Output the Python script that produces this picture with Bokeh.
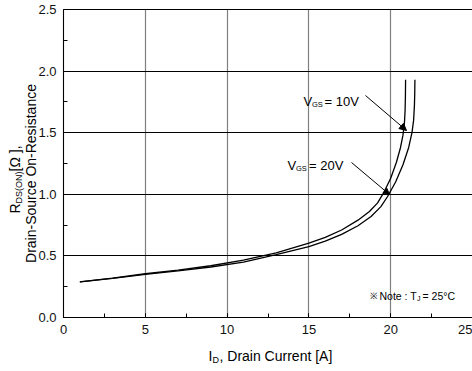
import math
from bokeh.plotting import figure
from bokeh.models import (Label, Arrow, NormalHead, SingleIntervalTicker, Range1d,
                          PrintfTickFormatter, Grid)
from bokeh.embed import file_html
from bokeh.resources import INLINE

# ---- data ----
id_10v = [1.0, 3.0, 5.0, 7.0, 9.0, 11.0, 13.0, 15.0, 16.0, 17.0, 18.0, 18.7, 19.2, 19.6, 20.0, 20.35, 20.6, 20.75, 20.84, 20.88, 20.9, 20.91]
r_10v = [0.29, 0.32, 0.355, 0.385, 0.42, 0.465, 0.525, 0.603, 0.65, 0.71, 0.79, 0.86, 0.93, 1.02, 1.13, 1.26, 1.38, 1.48, 1.58, 1.68, 1.8, 1.93]

id_20v = [1.0, 3.0, 5.0, 7.0, 9.0, 11.0, 13.0, 15.0, 16.0, 17.0, 18.0, 18.8, 19.4, 19.8, 20.3, 20.75, 21.1, 21.3, 21.4, 21.45, 21.47, 21.48]
r_20v = [0.29, 0.318, 0.35, 0.378, 0.41, 0.45, 0.51, 0.576, 0.62, 0.675, 0.745, 0.82, 0.9, 0.98, 1.1, 1.24, 1.38, 1.5, 1.6, 1.72, 1.82, 1.93]

x_ticks = [0, 5, 10, 15, 20, 25]
y_ticks = [0.0, 0.5, 1.0, 1.5, 2.0, 2.5]

FONT = "Liberation Sans"
W, H = 472, 368
# plot-area placement on the canvas (pixels)
LEFT, TOP, FH = 63, 9, 308
FW = W - LEFT
BOTTOM = H - TOP - FH

x0, x1 = x_ticks[0], x_ticks[-1]
y0, y1 = y_ticks[0], y_ticks[-1]
sx = (x1 - x0) / FW
sy = (y1 - y0) / FH

# the frame spans the whole canvas; axes are pinned at the origin
p = figure(width=W, height=H, output_backend="svg", toolbar_location=None,
           x_range=Range1d(x0 - LEFT * sx, x1),
           y_range=Range1d(y0 - BOTTOM * sy, y1 + TOP * sy),
           min_border=0)
p.outline_line_color = None
p.background_fill_color = "white"
p.border_fill_color = "white"

p.xaxis.ticker = SingleIntervalTicker(interval=5, num_minor_ticks=2)
p.yaxis.ticker = SingleIntervalTicker(interval=0.5, num_minor_ticks=2)
p.yaxis.formatter = PrintfTickFormatter(format="%.1f")
p.xaxis.fixed_location = y0
p.yaxis.fixed_location = x0
p.xaxis.bounds = (x0, x1)
p.yaxis.bounds = (y0, y1)

for ax in (p.xaxis, p.yaxis):
    ax.axis_line_color = "black"
    ax.axis_line_width = 1
    ax.major_tick_in = 4
    ax.major_tick_out = 0
    ax.minor_tick_in = 4
    ax.minor_tick_out = 0
    ax.major_tick_line_color = "black"
    ax.minor_tick_line_color = "black"
    ax.major_label_text_font = FONT
    ax.major_label_text_font_size = "13px"
    ax.major_label_text_color = "#111111"
    ax.major_label_standoff = 7

has_cross = "cross_bounds" in Grid.properties()
p.xgrid.ticker = SingleIntervalTicker(interval=5)
p.ygrid.ticker = SingleIntervalTicker(interval=0.5)
p.xgrid.bounds = (x0, x1)
p.ygrid.bounds = (y0, y1)
if has_cross:
    p.xgrid.cross_bounds = (y0, y1)
    p.ygrid.cross_bounds = (x0, x1)
    p.xgrid.grid_line_color = "black"
    p.xgrid.grid_line_dash = "1 1"
    p.xgrid.grid_line_width = 1.2
    p.ygrid.grid_line_color = "black"
    p.ygrid.grid_line_width = 1
else:
    p.xgrid.grid_line_color = None
    p.ygrid.grid_line_color = None
    p.segment(x0=x_ticks[1:], y0=[y0] * (len(x_ticks) - 1), x1=x_ticks[1:], y1=[y1] * (len(x_ticks) - 1),
              line_color="black", line_dash="1 1", line_width=1.2)
    p.segment(x0=[x0] * (len(y_ticks) - 1), y0=y_ticks[1:], x1=[x1] * (len(y_ticks) - 1), y1=y_ticks[1:],
              line_color="black", line_width=1)

# curves
p.line(id_10v, r_10v, line_color="black", line_width=1.3)
p.line(id_20v, r_20v, line_color="black", line_width=1.3)

# canvas-pixel -> data helpers for the arrows
def X(px):
    return x0 + (px - LEFT) * sx

def Y(py):
    return y0 + (TOP + FH - py) * sy

# text labels, screen units (frame == canvas)
def lab(text, px, py, size, angle=0.0, align="left"):
    p.add_layout(Label(x=px, y=H - py, x_units="screen", y_units="screen",
                       text=text, text_font=FONT,
                       text_font_size=size, text_color="black",
                       text_align=align, text_baseline="alphabetic",
                       angle=angle))

# x axis title
lab("I", 208, 355, "14px")
lab("D", 212, 359, "9px")
lab(", Drain Current [A]", 219, 355, "14px")

# y axis title (rotated)
rot = math.pi / 2
lab("R", 14, 213, "14px", angle=rot)
lab("DS(ON)", 18.5, 203, "9px", angle=rot)
lab(" [\u03a9 ],", 14, 171, "14px", angle=rot)
lab("Drain-Source On-Resistance", 30, 173, "14px", angle=rot, align="center")

# V_GS labels
lab("V", 303, 101, "13px")
lab("GS", 311.5, 104, "7.5px")
lab("= 10V", 324, 101, "13px")
lab("V", 287, 165, "13px")
lab("GS", 295.5, 168, "7.5px")
lab("= 20V", 308.5, 165, "13px")

# note
lab("\u203b", 369, 295, "9px")
lab("Note : T", 379, 295, "10.5px")
lab("J", 416.5, 298, "7px")
lab("= 25\u00b0C", 422, 295, "10.5px")

# arrows
p.add_layout(Arrow(end=NormalHead(size=7, fill_color="black", line_color="black", line_width=1),
                   x_start=X(365), y_start=Y(95), x_end=X(406), y_end=Y(130),
                   line_color="black", line_width=1))
p.add_layout(Arrow(end=NormalHead(size=6, fill_color="black", line_color="black", line_width=1),
                   x_start=X(351), y_start=Y(162), x_end=X(389), y_end=Y(194),
                   line_color="black", line_width=1))

open("out.html", "w").write(file_html(p, INLINE))
